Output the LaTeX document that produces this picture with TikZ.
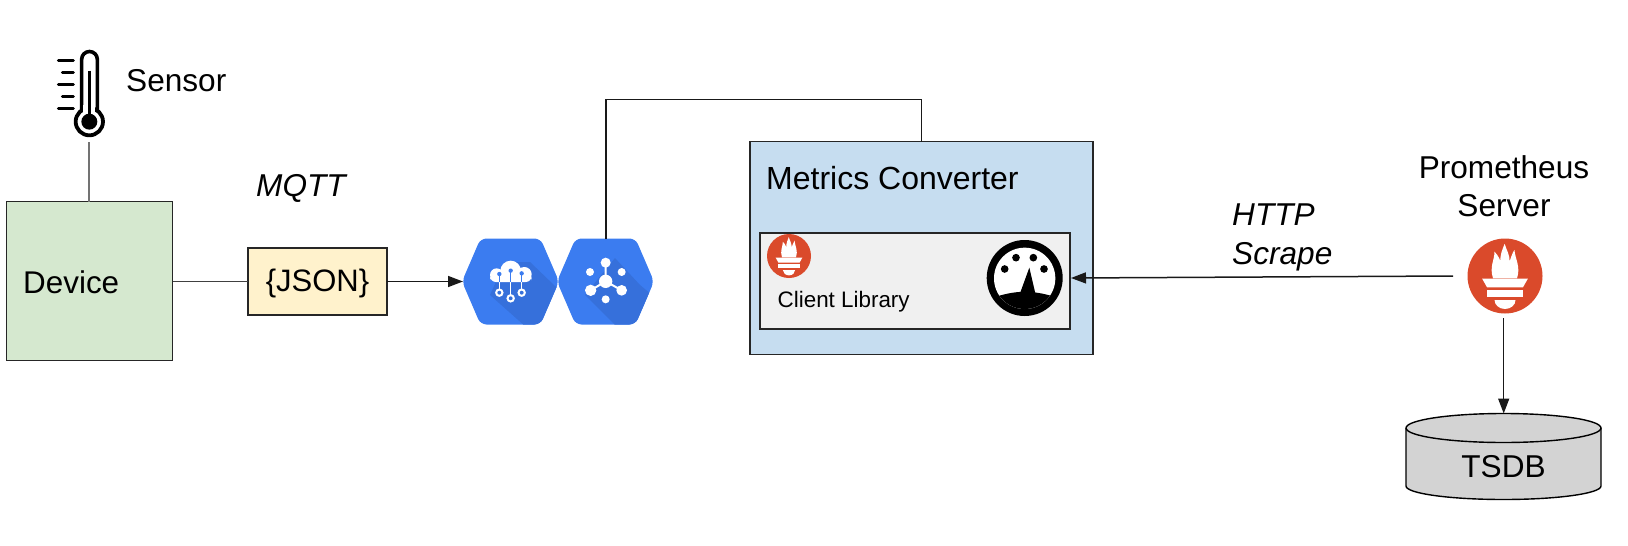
\documentclass[tikz,border=0pt]{standalone}
\usepackage{fontspec}
\setmainfont{Liberation Sans}
\usetikzlibrary{arrows.meta,shapes.geometric,calc}
\definecolor{promred}{HTML}{DA4A2B}
\definecolor{hexblue}{HTML}{3B7CF0}
\definecolor{hexdark}{HTML}{3670DB}
\tikzset{
  lbl/.style={inner sep=0pt,font=\fontsize{#1}{#1}\selectfont},
  boxnode/.style={draw=black!85,line width=1.7pt,inner sep=0pt,outer sep=0pt,rectangle},
  conn/.style={draw=black!90,line width=1.5pt},
  arr/.style={conn,-{Triangle[length=15pt,width=11pt]}},
}
% flame icon, drawn in units of the radius
\newcommand{\promicon}[4]{%
  \node[circle,fill=promred,inner sep=0pt,outer sep=0pt,minimum size=#4pt] (#1) at (#2,#3) {};
  \begin{scope}[shift={(#2,#3)},x=#4/2*1pt,y=-#4/2*1pt]
    \fill[white] (-0.32,0.06) .. controls (-0.42,-0.25) and (-0.28,-0.42) .. (-0.28,-0.65)
      .. controls (-0.16,-0.52) and (-0.13,-0.42) .. (-0.12,-0.38)
      .. controls (-0.14,-0.58) and (-0.06,-0.72) .. (-0.01,-0.86)
      .. controls (0.04,-0.68) and (0.13,-0.58) .. (0.12,-0.38)
      .. controls (0.15,-0.46) and (0.18,-0.58) .. (0.25,-0.70)
      .. controls (0.28,-0.42) and (0.42,-0.25) .. (0.32,0.06) -- cycle;
    \fill[white] (-0.61,0.07) -- (0.61,0.07) -- (0.48,0.30) -- (-0.48,0.30) -- cycle;
    \fill[white] (-0.48,0.38) rectangle (0.48,0.56);
    \fill[white] (-0.28,0.64) -- (0.28,0.64) arc[start angle=0,end angle=-180,x radius=0.28,y radius=-0.24] -- cycle;
  \end{scope}}
\newcommand{\hexpath}[1]{(#1-48.5,281.5) -- (#1-30,238.5) -- (#1+30,238.5) -- (#1+48.5,281.5) -- (#1+30,324.5) -- (#1-30,324.5) -- cycle}
\begin{document}
\begin{tikzpicture}[x=1pt,y=-1pt]
\useasboundingbox (0,0) rectangle (1628,546);

% thermometer
\begin{scope}[shift={(0,30)},scale=1/3]
  \draw[line width=3.6pt,line cap=round] (245,240) -- (245,88) arc[start angle=180,end angle=0,radius=23.5,y radius=-23.5] -- (292,240);
  \fill[white] (268,275) circle (38);
  \draw[line width=3.8pt,fill=white] (268,275) circle (41);
  \fill[white] (250,225) rectangle (286,250);
  \fill[black] (268,275) circle (24);
  \draw[line width=3.4pt] (268,122) -- (268,270);
  \foreach \xa/\ya in {175/92,187/127,175/163,187/198,175/234}
    \draw[line width=3pt,line cap=round] (\xa,\ya) -- (220,\ya);
\end{scope}
\coordinate (thermoBase) at (89,142);
\node[lbl=31.6,anchor=west] (sensor) at (126,81) {Sensor};

% device
\node[boxnode,fill={rgb,255:red,213;green,232;blue,207},minimum width=166pt,minimum height=159pt,anchor=north west] (device) at (6.5,201.5) {};
\node[lbl=31.4,anchor=west] (devicelabel) at (23,282.5) {Device};
\draw[draw=black!55,line width=1.4pt] (thermoBase) -- (device.north -| thermoBase);

% MQTT label
\node[lbl=31,anchor=west,font=\fontsize{31.6}{31.6}\selectfont\itshape] (mqtt) at (256,188) {MQTT};

% JSON box
\node[boxnode,fill={rgb,255:red,255;green,242;blue,204},minimum width=139pt,minimum height=67pt,anchor=north west] (json) at (248,248) {};
\node[lbl=31] (jsonlabel) at (317.5,283) {\{JSON\}};

% hexagons
\coordinate (hexAw) at (463,281.5);
\coordinate (hexBn) at (606,239);
\begin{scope}
  \clip[rounded corners=6pt] \hexpath{510.5};
  \fill[hexblue] (455,230) rectangle (565,330);
  \fill[hexdark] (505,262) -- (530,262) -- (580,310) -- (580,335) -- (535,335) -- (490,295) -- cycle;
\end{scope}
\begin{scope}
  \clip[rounded corners=6pt] \hexpath{605.5};
  \fill[hexblue] (550,230) rectangle (660,330);
  \fill[hexdark] (615,258) -- (640,285) -- (670,310) -- (670,335) -- (625,335) -- (585,295) -- cycle;
\end{scope}
% cloud icon
\begin{scope}[shift={(440,220)},scale=1/3]
  \fill[white] (170,165) circle (20) (212,153) circle (31) (253,163) circle (22);
  \fill[white,rounded corners=6pt] (150,163) rectangle (275,186);
  \draw[white,line width=1.5pt] (178,185) -- (178,207) (212,185) -- (212,224) (245,185) -- (245,207);
  \draw[hexblue,line width=1.5pt] (178,162) -- (178,186) (212,152) -- (212,186) (245,160) -- (245,186);
  \fill[hexblue] (178,162) circle (6.5) (212,152) circle (6.5) (245,160) circle (6.5);
  \draw[white,line width=2pt] (178,218) circle (9.5) (212,235) circle (9.5) (245,218) circle (9.5);
\end{scope}
% hub icon
\begin{scope}[shift={(440,220)},scale=1/3]
  \fill[white] (497,184) circle (20) (497,128) circle (15) (450,156) circle (12) (545,156) circle (12)
    (452,211) circle (17) (545,211) circle (16) (497,238) circle (12);
  \draw[white,line width=2pt] (497,128) -- (497,184) (452,211) -- (497,184) -- (545,211);
\end{scope}

% metrics converter
\node[boxnode,fill={rgb,255:red,198;green,221;blue,240},minimum width=343pt,minimum height=213pt,anchor=north west] (metrics) at (750,141.5) {};
\node[lbl=32,anchor=west] (metricslabel) at (766,178) {Metrics Converter};
\node[boxnode,fill={rgb,255:red,240;green,240;blue,240},minimum width=310pt,minimum height=96pt,anchor=north west] (client) at (760,233) {};
\node[lbl=22.4,anchor=west] (clientlabel) at (777.5,302) {Client Library};
\promicon{promClient}{789}{256}{44}

% gauge
\node[circle,fill=black,inner sep=0pt,minimum size=76pt] (gauge) at (1024.7,278) {};
\begin{scope}[shift={(750,220)},scale=1/3]
  \begin{scope}
    \clip (824,175) circle (92);
    \fill[white] (720,70) rectangle (930,290);
    \fill[black] (720,236) .. controls (760,222) and (790,216) .. (824,215) .. controls (860,216) and (890,222) .. (930,236) -- (930,290) -- (720,290) -- cycle;
  \end{scope}
  \fill[black] (838,143) -- (810,220) -- (856,220) -- cycle;
  \fill[black] (764,147) circle (11.5) (798,113) circle (11.5) (850,113) circle (11.5) (882,147) circle (11.5);
\end{scope}

% connector from hub to metrics
\coordinate (bendA) at (606,99.5);
\draw[conn] (hexBn) -- (bendA) -- (bendA -| metrics.north) -- (metrics.north);

\draw[draw=black!75,line width=1.5pt] (device.east |- hexAw) -- (json.west |- hexAw);
\draw[arr] (json.east |- hexAw) -- (hexAw);

% Prometheus server
\node[lbl=31.6,align=center,font=\fontsize{31.6}{38.5}\selectfont] (serverlabel) at (1504,186) {Prometheus\\Server};
\promicon{promServer}{1505}{276}{75}

% HTTP scrape
\node[lbl=31,anchor=west,align=left,font=\fontsize{31.6}{39}\selectfont\itshape] (http) at (1232,237) {HTTP\\Scrape};
\coordinate (scrapeStart) at (1453,276);
\coordinate (scrapeEnd) at (1071,278);
\draw[arr] (scrapeStart) -- (scrapeEnd);

% TSDB
\path[fill={rgb,255:red,211;green,211;blue,211},draw=black,line width=1.4pt]
  (1406,428) arc[start angle=180,end angle=0,x radius=97.5,y radius=-14.5] -- (1601,486)
  arc[start angle=0,end angle=180,x radius=97.5,y radius=13.5] -- cycle;
\draw[black,line width=1.4pt] (1406,428) arc[start angle=180,end angle=360,x radius=97.5,y radius=-14.5];
\coordinate (tsdbTop) at (1503.7,413.5);
\node[lbl=31.6] (tsdb) at (1503.5,467) {TSDB};
\draw[arr,shorten <=4.5pt] (tsdbTop |- promServer.south) -- (tsdbTop);
\end{tikzpicture}
\end{document}
